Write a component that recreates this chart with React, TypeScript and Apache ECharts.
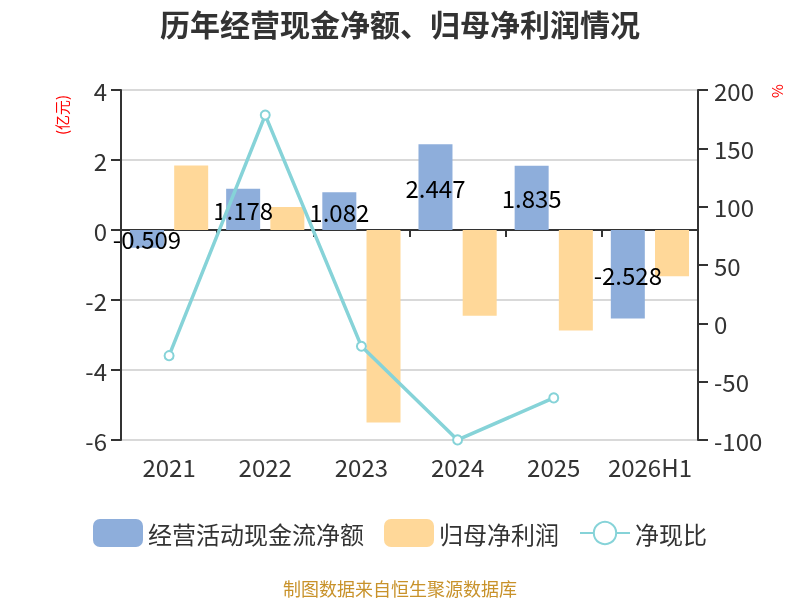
import React, { useEffect, useRef } from "react";
import * as echarts from "echarts";

const categories = ["2021", "2022", "2023", "2024", "2025", "2026H1"];
const cashFlow = [-0.509, 1.178, 1.082, 2.447, 1.835, -2.528];
const netProfit = [1.84, 0.66, -5.5, -2.45, -2.87, -1.32];
const cashRatio: (number | string)[] = [-27.7, 178.5, -19.7, -99.9, -63.9, "-"];

const FONT = "'Noto Sans CJK SC', 'Noto Sans', sans-serif";

export default function App() {
  const ref = useRef<HTMLDivElement>(null);
  useEffect(() => {
    if (!ref.current) return;
    const chart = echarts.init(ref.current, undefined, { renderer: "svg" });
    chart.setOption({
      animation: false,
      textStyle: { fontFamily: FONT },
      title: {
        text: "历年经营现金净额、归母净利润情况",
        left: "center",
        top: 3,
        textStyle: { fontSize: 30, fontWeight: "bold", color: "#333", fontFamily: FONT },
      },
      grid: { left: 121, right: 102, top: 90, bottom: 160 },
      legend: {
        bottom: 48,
        left: "center",
        itemWidth: 50,
        itemHeight: 28,
        itemGap: 20,
        textStyle: { fontSize: 24, color: "#333", fontFamily: FONT },
        data: [
          { name: "经营活动现金流净额", icon: "roundRect" },
          { name: "归母净利润", icon: "roundRect" },
          { name: "净现比" },
        ],
      },
      xAxis: [
        {
          type: "category",
          data: categories,
          position: "bottom",
          axisLine: { show: false, onZero: false },
          axisTick: { show: false },
          axisLabel: { interval: 0, fontSize: 24, color: "#333", margin: 14, fontFamily: FONT },
        },
        {
          type: "category",
          data: categories,
          position: "bottom",
          axisLine: { show: true, onZero: true, lineStyle: { color: "#333", width: 2 } },
          axisTick: { show: true, length: 7, lineStyle: { color: "#333", width: 2 } },
          axisLabel: { show: false },
        },
      ],
      yAxis: [
        {
          type: "value",
          min: -6,
          max: 4,
          interval: 2,
          axisLine: { show: true, lineStyle: { color: "#333", width: 2 } },
          axisTick: { show: true, length: 10, lineStyle: { color: "#333", width: 2 } },
          axisLabel: { fontSize: 24, color: "#333", margin: 14, fontFamily: FONT },
          splitLine: { show: true, lineStyle: { color: "#ccc", width: 1.5 } },
        },
        {
          type: "value",
          min: -100,
          max: 200,
          interval: 50,
          axisLine: { show: true, lineStyle: { color: "#333", width: 2 } },
          axisTick: { show: true, length: 10, lineStyle: { color: "#333", width: 2 } },
          axisLabel: { fontSize: 24, color: "#333", margin: 16, fontFamily: FONT },
          splitLine: { show: false },
        },
      ],
      series: [
        {
          name: "经营活动现金流净额",
          type: "bar",
          data: cashFlow,
          barWidth: 34,
          barGap: "30%",
          itemStyle: { color: "#8eaedb" },
          label: {
            show: true,
            position: "inside",
            color: "#000",
            fontSize: 24,
            fontFamily: FONT,
          },
        },
        {
          name: "归母净利润",
          type: "bar",
          data: netProfit,
          barWidth: 34,
          barGap: "30%",
          itemStyle: { color: "#ffd899" },
        },
        {
          name: "净现比",
          type: "line",
          yAxisIndex: 1,
          data: cashRatio,
          symbol: "emptyCircle",
          symbolSize: 9,
          lineStyle: { color: "#86d3d8", width: 3.5 },
          itemStyle: { color: "#86d3d8", borderWidth: 2 },
        },
      ],
      graphic: [
        {
          type: "text",
          x: 61,
          y: 115,
          rotation: Math.PI / 2,
          style: {
            text: "(亿元)",
            fill: "#f00",
            fontSize: 15,
            fontFamily: FONT,
            align: "center",
            verticalAlign: "middle",
          },
        },
        {
          type: "text",
          x: 776,
          y: 91,
          rotation: Math.PI / 2,
          style: {
            text: "%",
            fill: "#f00",
            fontSize: 15,
            fontFamily: FONT,
            align: "center",
            verticalAlign: "middle",
          },
        },
        {
          type: "text",
          x: 400,
          y: 588,
          style: {
            text: "制图数据来自恒生聚源数据库",
            fill: "#c8922a",
            fontSize: 18,
            fontFamily: FONT,
            align: "center",
            verticalAlign: "middle",
          },
        },
      ],
    });
    return () => chart.dispose();
  }, []);
  return (
    <div
      ref={ref}
      style={{ position: "fixed", left: 0, top: 0, width: 800, height: 600 }}
    />
  );
}
